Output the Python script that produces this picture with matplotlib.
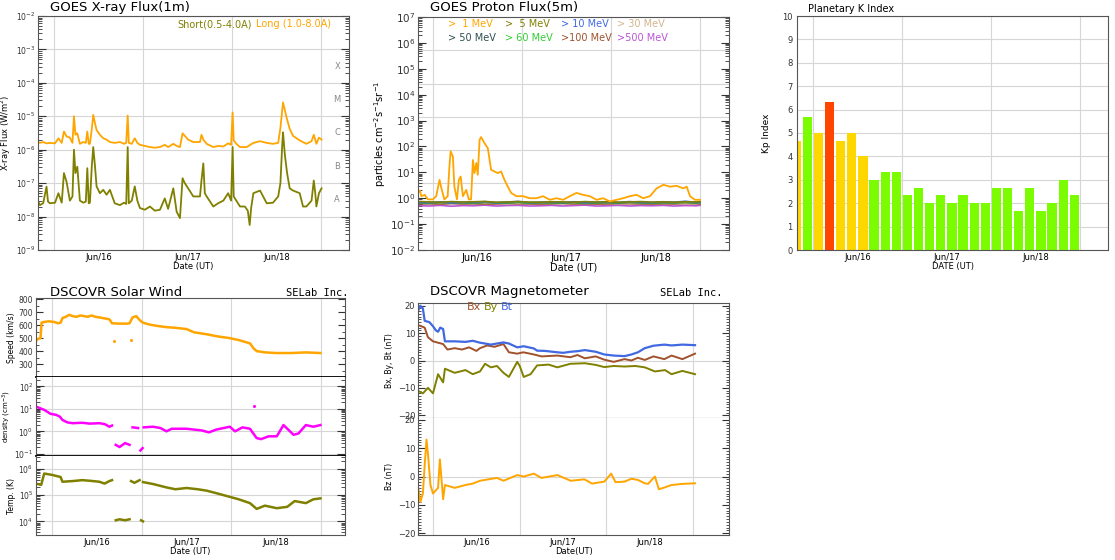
import numpy as np
import matplotlib.pyplot as plt
from matplotlib.ticker import LogLocator, NullFormatter, MultipleLocator
import matplotlib.transforms as mtrans

# ---- data (time in hours from Jun 16 00 UT) ----
day_labels = ['Jun/16', 'Jun/17', 'Jun/18']
day_mid = [12, 36, 60]
day_edges = [0, 24, 48, 72]

# GOES X-ray, long channel (1.0-8.0 A)
xl_t = [-4.2, -3.8, -2.9, -2.0, -1.1, 0.3, 1.2, 2.1, 2.7, 3.4, 4.3, 5.0, 5.4, 5.8, 6.3, 7.0,
        7.9, 8.6, 9.0, 9.4, 9.7, 10.2, 10.6, 11.1, 11.5, 12.4, 13.3, 14.2, 15.1, 16.4, 17.8,
        18.9, 19.5, 19.9, 20.2, 21.0, 21.8, 22.5, 23.2, 24.5, 25.9, 27.2, 28.6, 29.9, 30.8,
        32.2, 33.1, 34.0, 34.7, 35.3, 36.2, 37.6, 39.4, 39.8, 40.3, 41.2, 43.0, 44.3, 45.7,
        47.0, 47.8, 48.2, 48.5, 49.2, 50.2, 52.0, 53.8, 55.6, 57.4, 59.1, 60.5, 61.1, 61.6,
        61.8, 62.3, 62.9, 63.6, 64.5, 66.3, 68.1, 69.5, 70.1, 70.8, 71.5, 72.2]
xl_v = [1.7e-6, 1.6e-6, 1.7e-6, 1.55e-6, 1.6e-6, 1.55e-6, 2.2e-6, 1.6e-6, 3.5e-6, 2.5e-6,
        2.3e-6, 1.6e-6, 1.0e-5, 2.8e-6, 3.1e-6, 1.5e-6, 1.7e-6, 1.6e-6, 3.5e-6, 1.5e-6,
        1.5e-6, 4e-6, 1.1e-5, 6e-6, 3.9e-6, 2.8e-6, 2.2e-6, 2.0e-6, 1.7e-6, 1.6e-6, 1.7e-6,
        1.5e-6, 1.6e-6, 1.05e-5, 1.6e-6, 1.5e-6, 2.2e-6, 1.6e-6, 1.4e-6, 1.3e-6, 1.2e-6,
        1.15e-6, 1.2e-6, 1.4e-6, 1.2e-6, 1.5e-6, 1.3e-6, 1.2e-6, 3.1e-6, 2.6e-6, 2.0e-6,
        1.7e-6, 1.7e-6, 2.8e-6, 2.0e-6, 1.5e-6, 1.2e-6, 1.3e-6, 1.25e-6, 1.55e-6, 1.4e-6,
        1.3e-5, 1.9e-6, 1.5e-6, 1.2e-6, 1.2e-6, 1.6e-6, 1.8e-6, 1.6e-6, 1.5e-6, 1.6e-6,
        4.5e-6, 1.6e-5, 2.6e-5, 1.5e-5, 8e-6, 4.2e-6, 2.6e-6, 1.9e-6, 1.5e-6, 1.8e-6,
        2.8e-6, 1.5e-6, 2.3e-6, 2.0e-6]

# GOES X-ray, short channel (0.5-4.0 A)
xs_t = [-4.2, -3.8, -2.9, -2.0, -1.6, -1.1, 0.3, 1.2, 2.1, 2.7, 3.4, 4.3, 5.0, 5.4, 5.8, 6.3,
        7.0, 7.9, 8.6, 9.0, 9.4, 9.7, 10.2, 10.6, 11.1, 11.5, 12.4, 13.3, 14.2, 15.1, 16.4,
        17.8, 18.9, 19.5, 19.9, 20.2, 21.0, 21.8, 22.5, 23.2, 24.5, 25.9, 27.2, 28.6, 29.9,
        30.8, 32.2, 33.1, 34.0, 34.7, 35.3, 36.2, 37.6, 39.4, 39.8, 40.3, 40.7, 41.2, 43.0,
        44.3, 45.7, 47.0, 47.8, 48.2, 48.5, 49.2, 50.2, 51.5, 52.3, 52.8, 53.2, 53.8, 55.6,
        57.4, 59.1, 60.5, 61.1, 61.6, 61.8, 62.3, 62.9, 63.6, 64.5, 66.3, 67.2, 68.1, 69.5,
        70.1, 70.5, 70.8, 71.5, 72.2]
xs_v = [2.8e-8, 2.2e-8, 2.5e-8, 7.9e-8, 2.8e-8, 2.5e-8, 2.6e-8, 5e-8, 2.6e-8, 2e-7, 1.1e-7,
        3e-8, 4e-8, 1e-6, 2e-7, 3.1e-7, 3e-8, 2.6e-8, 2.8e-8, 2.8e-7, 2.5e-8, 2.6e-8, 3e-7,
        1.2e-6, 3e-7, 8e-8, 5e-8, 6.3e-8, 4.5e-8, 6.3e-8, 2.5e-8, 2.2e-8, 2.6e-8, 2.4e-8,
        1.2e-6, 2.5e-8, 3e-8, 8e-8, 3e-8, 1.8e-8, 1.6e-8, 2e-8, 1.5e-8, 1.6e-8, 3.5e-8,
        1.7e-8, 7e-8, 1.4e-8, 9e-9, 1.4e-7, 1e-7, 7e-8, 4e-8, 4e-8, 1.2e-7, 3.9e-7, 5e-8,
        4e-8, 2e-8, 2.5e-8, 3e-8, 5e-8, 3e-8, 1.2e-6, 4e-8, 3e-8, 2e-8, 2e-8, 1.5e-8, 5.6e-9,
        1.8e-8, 5e-8, 6e-8, 2.5e-8, 2.6e-8, 4e-8, 1e-7, 1.5e-6, 3.3e-6, 7e-7, 2e-7, 7e-8,
        6e-8, 5e-8, 2e-8, 2e-8, 3e-8, 1.2e-7, 5e-8, 2e-8, 5e-8, 7e-8]
flare_classes = ['A', 'B', 'C', 'M', 'X']
flare_mid = [10**-7.5, 10**-6.5, 10**-5.5, 10**-4.5, 10**-3.5]

# GOES protons, >1 MeV
p1_t = [-4.0, -3.5, -3.1, -2.2, -1.3, 0, 0.9, 1.8, 2.2, 3.1, 4.0, 4.5, 4.8, 5.4, 5.8, 6.5,
        7.0, 7.5, 8.1, 9.0, 9.7, 10.3, 10.8, 11.2, 11.7, 12.1, 12.6, 13.0, 13.9, 14.8, 15.7,
        16.6, 17.5, 18.4, 19.3, 20.2, 21.1, 22.5, 24.3, 26.1, 27.9, 29.7, 31.5, 33.3, 35.1,
        36.9, 38.7, 40.5, 42.3, 44.1, 45.9, 47.7, 49.5, 51.3, 53.1, 54.9, 56.7, 58.5, 60.3,
        62.1, 63.9, 65.7, 67.5, 68.4, 69.3, 70.6, 72.0]
p1_v = [1.6, 2.0, 1.2, 1.35, 0.9, 0.9, 1.2, 5.1, 2.8, 0.9, 1.2, 20, 65, 41, 2.8, 0.9, 5.1,
        6.9, 1.2, 2.1, 0.9, 0.9, 30, 9.3, 23, 8, 182, 230, 135, 87, 12.5, 10.8, 9.3, 10.8,
        5.1, 2.8, 1.6, 1.2, 1.2, 1.0, 1.0, 1.2, 0.87, 1.0, 0.87, 1.2, 1.6, 1.35, 1.2, 0.87,
        1.0, 0.75, 0.87, 1.0, 1.2, 1.35, 1.0, 1.2, 2.4, 3.3, 2.8, 3.0, 2.4, 2.8, 1.2, 0.87, 0.87]
# higher energy channels (flat background)
ph_t = [-4, -1, 2, 5, 8, 11, 14, 17, 20, 23, 26, 29, 32, 35, 38, 41, 44, 47, 50, 53, 56, 59,
        62, 65, 68, 71, 72]
p5_v = [0.75, 0.72, 0.70, 0.74, 0.71, 0.73, 0.75, 0.70, 0.72, 0.74, 0.71, 0.70, 0.73, 0.72,
        0.70, 0.74, 0.71, 0.73, 0.70, 0.72, 0.74, 0.71, 0.72, 0.70, 0.73, 0.72, 0.74]
p10_v = [0.70, 0.68, 0.72, 0.66, 0.70, 0.69, 0.74, 0.67, 0.71, 0.75, 0.68, 0.70, 0.72, 0.69,
         0.73, 0.68, 0.70, 0.72, 0.69, 0.74, 0.70, 0.68, 0.73, 0.70, 0.76, 0.69, 0.72]
p30_v = [0.64, 0.65, 0.63, 0.66, 0.64, 0.65, 0.63, 0.64, 0.66, 0.65, 0.64, 0.63, 0.65, 0.66,
         0.64, 0.65, 0.63, 0.64, 0.66, 0.65, 0.64, 0.63, 0.65, 0.64, 0.66, 0.65, 0.64]
p50_v = [0.66, 0.64, 0.68, 0.65, 0.67, 0.64, 0.69, 0.66, 0.65, 0.70, 0.64, 0.67, 0.66, 0.65,
         0.68, 0.64, 0.66, 0.67, 0.65, 0.69, 0.66, 0.64, 0.67, 0.66, 0.70, 0.65, 0.67]
p60_v = [0.68, 0.66, 0.70, 0.67, 0.69, 0.66, 0.71, 0.68, 0.67, 0.70, 0.66, 0.69, 0.68, 0.67,
         0.70, 0.66, 0.68, 0.69, 0.67, 0.70, 0.68, 0.66, 0.69, 0.68, 0.70, 0.67, 0.69]
p100_v = [0.60, 0.61, 0.59, 0.62, 0.60, 0.61, 0.59, 0.60, 0.62, 0.61, 0.60, 0.59, 0.61, 0.62,
          0.60, 0.61, 0.59, 0.60, 0.62, 0.61, 0.60, 0.59, 0.61, 0.60, 0.62, 0.61, 0.60]
p500_v = [0.52, 0.50, 0.53, 0.49, 0.52, 0.51, 0.54, 0.50, 0.52, 0.53, 0.50, 0.51, 0.53, 0.50,
          0.52, 0.54, 0.50, 0.51, 0.53, 0.50, 0.52, 0.51, 0.53, 0.50, 0.52, 0.51, 0.53]
proton_names = ['>  1 MeV', '>  5 MeV', '> 10 MeV', '> 30 MeV',
                '> 50 MeV', '> 60 MeV', '>100 MeV', '>500 MeV']

# Planetary K index, 3-hour bins starting Jun 15 18 UT
kp_values = [4.67, 5.67, 5.0, 6.33, 4.67, 5.0, 4.0, 3.0, 3.33, 3.33, 2.33, 2.67, 2.0, 2.33,
             2.0, 2.33, 2.0, 2.0, 2.67, 2.67, 1.67, 2.67, 1.67, 2.0, 3.0, 2.33]
kp_first_bin = -4.5

# DSCOVR solar wind
sp_t = [-4.4, -3.8, -3.2, -2.9, -2.2, -1.0, 0.5, 1.5, 2.2, 2.7, 3.6, 4.5, 5.4, 6.5, 7.5, 8.5,
        9.5, 10.5, 11.5, 12.6, 13.5, 14.5, 15.3, 16.0, 18.0, 20.0, 20.7, 21.5, 22.5, 23.4,
        24.0, 24.3, 26.0, 28.0, 30.6, 33.0, 36.0, 38.0, 41.4, 44.0, 47.6, 50.0, 53.0, 54.0,
        54.8, 57.0, 60.2, 64.0, 68.0, 71.9]
sp_v = [480, 495, 500, 620, 625, 630, 625, 615, 620, 655, 665, 680, 670, 665, 675, 670, 665,
        675, 665, 660, 655, 650, 645, 615, 612, 612, 615, 660, 670, 640, 625, 620, 605, 595,
        585, 580, 570, 545, 530, 515, 500, 485, 460, 420, 400, 390, 385, 385, 390, 385]
den_t = [-4.4, -2.2, -0.5, 1.0, 2.0, 2.7, 4.0, 5.4, 8.0, 10.0, 12.6, 14.0, 15.3, 16.0, np.nan,
         21.5, 23.0, np.nan, 24.5, 27.0, 29.0, 30.6, 32.0, 36.0, 40.0, 42.0, 44.0, 47.6, 49.0,
         51.0, 53.0, 54.8, 56.0, 58.0, 60.2, 62.0, 64.7, 66.0, 68.0, 70.0, 71.9]
den_v = [12.6, 9, 6, 5.4, 4.5, 3.2, 2.5, 2.3, 2.4, 2.2, 2.3, 2.1, 1.6, 1.8, np.nan, 1.5, 1.4,
         np.nan, 1.5, 1.6, 1.4, 1.0, 1.3, 1.3, 1.1, 0.9, 1.2, 1.6, 1.0, 1.5, 1.3, 0.5, 0.45,
         0.6, 0.6, 1.9, 0.7, 0.8, 1.9, 1.6, 1.9]
den_low_t = [17.0, 18.0, 19.5, 20.7, np.nan, 23.6, 24.2]
den_low_v = [0.25, 0.2, 0.3, 0.25, np.nan, 0.14, 0.18]
tmp_t = [-4.4, -3.0, -2.2, 0, 2.2, 2.7, 5.4, 8.0, 10, 12.6, 14, 15.3, 16, np.nan, 21.1, 22,
         23.4, np.nan, 24.3, 27, 30.6, 33, 36, 39, 41.4, 44, 47.6, 50, 53, 54.8, 57, 60.2,
         63, 65, 68, 70, 71.9]
tmp_v = [2.8e5, 2.5e5, 6.8e5, 6e5, 5e5, 3.3e5, 3.5e5, 3.8e5, 3.6e5, 3.3e5, 2.8e5, 3.5e5,
         3.8e5, np.nan, 3.5e5, 3e5, 3.8e5, np.nan, 3.2e5, 2.7e5, 2.0e5, 1.7e5, 1.9e5, 1.7e5,
         1.5e5, 1.2e5, 8.7e4, 7e4, 5e4, 3e4, 4e4, 3.2e4, 3.6e4, 6e4, 5e4, 7e4, 7.6e4]
tmp_low_t = [17.0, 18.0, 19.5, 20.7, np.nan, 23.8, 24.3]
tmp_low_v = [1.1e4, 1.2e4, 1.1e4, 1.2e4, np.nan, 1.1e4, 1.0e4]

# DSCOVR magnetometer
bt_t = [-4.2, -3.5, -2.8, -2.3, -1.0, 0, 0.8, 1.4, 2.0, 2.8, 3.3, 6, 9, 11, 13, 14.4, 16, 17.7,
        19.5, 21, 23.3, 25.1, 27.9, 28.8, 31, 34.4, 36, 38.1, 40, 42, 45, 47.4, 50, 53, 54.9,
        56.7, 58.6, 61, 64, 66, 69, 72.5]
bt_v = [18, 20, 19, 14.5, 14, 12.5, 11, 10.5, 12, 11.5, 7, 7, 6.8, 7.2, 6.5, 6.2, 5.8, 6.2,
        6.6, 6.2, 4.8, 5.2, 4.4, 3.6, 3.5, 3.0, 2.8, 3.2, 3.4, 3.8, 3.2, 2.2, 1.8, 1.6, 2.2,
        3.0, 4.5, 5.4, 5.8, 5.5, 5.8, 5.6]
bx_t = [-4.2, -2.3, -1.4, 0, 2.8, 4, 6, 8, 10, 12, 13, 15, 17, 19.5, 21, 23.3, 25, 27.9, 30,
        34.4, 38, 40, 42, 45, 47.4, 50, 53, 54.9, 56.7, 58.6, 61, 64, 66, 69, 72.5]
bx_v = [13, 12, 8.5, 7, 6, 4, 4.5, 4, 4.8, 3.5, 4.5, 5.5, 5, 6, 3, 2.5, 3, 2.2, 1.5, 1.8, 1.2,
        2.0, 0.8, 1.5, 0.3, -0.5, 0.5, 0, 1, 0.2, 1.5, 0.5, 1.8, 0.5, 2.5]
by_t = [-4.2, -2.8, -1.4, 0, 1.4, 2.8, 3.3, 6, 9, 11, 13, 14.4, 16, 17.7, 19.5, 21, 23.3, 24,
        25.1, 27, 28.8, 32, 34.4, 38, 42, 45, 47.4, 50, 53, 56, 58.6, 61.4, 64.2, 66, 69, 72.5]
by_v = [-11, -12, -10, -12, -5, -8, -3, -4.5, -3.5, -5, -4, -1.2, -2.5, -2, -4.5, -6, -0.5, -2,
        -6, -5, -1.8, -1.5, -2.5, -1.2, -1.0, -1.6, -2.4, -2.0, -2.2, -2.0, -2.5, -4, -3.5, -5,
        -3.8, -5]
bz_t = [-4.2, -3.5, -2.8, -2.3, -1.8, -1.4, -0.7, 0, 1.4, 1.9, 2.8, 3.3, 6, 9, 11, 13, 14.4,
        17.7, 19.5, 23.3, 25.1, 27.9, 30, 34.4, 38.1, 41.9, 44, 47.4, 49.3, 50.5, 53, 54.9,
        56.7, 58.6, 59.5, 61.4, 62.5, 64.2, 66, 69, 72.5]
bz_v = [-3, -9, -6, 4, 13, 8, -3, -6, -4, 6, -8, -3, -4, -3, -2.5, -1.5, -1.2, -0.5, -1.5, 0.5,
        0, 1.0, -0.5, 0.5, -1.5, -1.0, -2.5, -1.8, 1.0, -2.0, -1.8, -0.8, -1.2, -2.4, -2.6, 0,
        -4.5, -3.8, -3.0, -2.6, -2.4]

# ---- colours ----
ORANGE = '#FFA500'
OLIVE = '#808000'
GRID = '#d6d6d6'
FRAME = '#555555'
proton_colors = ['#FFA500', '#808000', '#4169E1', '#D2B48C',
                 '#2F4F4F', '#32CD32', '#A0522D', '#BA55D3']
kp_colors = ['#FFD700', '#7CFC00', '#FFD700', '#FF4500', '#FFD700', '#FFD700', '#FFD700'] + \
            ['#7CFC00'] * 19

W, H = 1115, 560
fig = plt.figure(figsize=(W / 100, H / 100), dpi=100)


def box(l, t, r, b):
    return fig.add_axes([l / W, 1 - b / H, (r - l) / W, (b - t) / H])


def time_axis(ax, xlim, labels=True, fs=6):
    ax.set_xlim(xlim)
    ax.set_xticks(day_mid)
    ax.set_xticklabels(day_labels if labels else [], fontsize=fs)
    ax.set_xticks(day_edges, minor=True)
    ax.tick_params(axis='x', which='both', length=0, pad=2)
    ax.grid(True, axis='x', which='minor', color=GRID, lw=0.8)
    ax.tick_params(axis='y', which='both', direction='in', left=True, right=True,
                   colors='#333333')
    for s in ax.spines.values():
        s.set_color(FRAME)


def log_y(ax, lo, hi, fs):
    ax.set_yscale('log')
    ax.set_ylim(lo, hi)
    ax.yaxis.set_major_locator(LogLocator(base=10, numticks=30))
    ax.yaxis.set_minor_locator(LogLocator(base=10, subs=np.arange(2, 10), numticks=30))
    ax.yaxis.set_minor_formatter(NullFormatter())
    ax.tick_params(axis='y', which='major', length=6, labelsize=fs, pad=2)
    ax.tick_params(axis='y', which='minor', length=3)


# ---- GOES X-ray ----
ax = box(38, 16, 349, 250)
ax.plot(xl_t, xl_v, color=ORANGE, lw=1.3)
ax.plot(xs_t, xs_v, color=OLIVE, lw=1.3)
log_y(ax, 1e-9, 1e-2, 5.5)
time_axis(ax, (-4.3, 79.6))
ax.grid(True, axis='y', which='major', color=GRID, lw=0.8)
ax.set_xlabel('Date (UT)', fontsize=6, labelpad=0)
ax.set_ylabel('X-ray Flux (W/m$^2$)', fontsize=6, labelpad=2)
tr = mtrans.blended_transform_factory(ax.transAxes, ax.transData)
for c, v in zip(flare_classes, flare_mid):
    ax.text(0.962, v, c, transform=tr, color='#888888', fontsize=6, ha='center', va='center')
ax.text(0.447, 0.965, 'Short(0.5-4.0A)', transform=ax.transAxes, color=OLIVE, fontsize=7,
        va='center')
ax.text(0.700, 0.965, 'Long (1.0-8.0A)', transform=ax.transAxes, color=ORANGE, fontsize=7,
        va='center')
fig.text(50 / W, 1 - 8 / H, 'GOES X-ray Flux(1m)', fontsize=9.5, va='center')

# ---- GOES protons ----
ax = box(418, 17, 729, 250)
for vals, col in zip([p500_v, p100_v, p30_v, p50_v, p60_v, p10_v, p5_v],
                     ['#BA55D3', '#A0522D', '#D2B48C', '#2F4F4F', '#32CD32', '#4169E1', '#808000']):
    ax.plot(ph_t, vals, color=col, lw=1.2)
ax.plot(p1_t, p1_v, color=ORANGE, lw=1.3)
log_y(ax, 1e-2, 1e7, 7.5)
time_axis(ax, (-4.0, 79.8), fs=7)
for k in range(1, 7):
    ax.axhline(10 ** (7 - 9 * k / 7), color=GRID, lw=0.8, zorder=0)
ax.set_xlabel('Date (UT)', fontsize=7, labelpad=0)
ax.set_ylabel('particles cm$^{-2}$s$^{-1}$sr$^{-1}$', fontsize=7, labelpad=1)
leg_x = [448, 505, 561, 617]
for i, (name, col) in enumerate(zip(proton_names, proton_colors)):
    fig.text(leg_x[i % 4] / W, 1 - (24 + 14 * (i // 4)) / H, name, color=col, fontsize=7,
             va='center')
fig.text(430 / W, 1 - 8 / H, 'GOES Proton Flux(5m)', fontsize=9.5, va='center')

# ---- Planetary K index ----
ax = box(797, 16, 1108, 250)
kp_t = kp_first_bin + 3 * np.arange(len(kp_values))
ax.bar(kp_t, kp_values, width=2.5, color=kp_colors, zorder=2)
time_axis(ax, (-4.3, 79.6), fs=6)
ax.set_ylim(0, 10)
ax.yaxis.set_major_locator(MultipleLocator(1))
ax.tick_params(axis='y', which='major', length=0, labelsize=6, pad=3)
ax.grid(True, axis='y', which='major', color=GRID, lw=0.8, zorder=0)
ax.set_axisbelow(True)
ax.set_xlabel('DATE (UT)', fontsize=6, labelpad=0)
ax.set_ylabel('Kp Index', fontsize=6.5, labelpad=8)
fig.text(808 / W, 1 - 9 / H, 'Planetary K Index', fontsize=7, va='center')

# ---- DSCOVR solar wind ----
sw_lim = (-4.4, 78.5)
ax1 = box(36, 298, 345, 377)
ax1.plot(sp_t, sp_v, color=ORANGE, lw=1.8)
ax1.plot([16.5, 21.0], [480, 485], 'o', color=ORANGE, ms=1.2)
time_axis(ax1, sw_lim, labels=False)
ax1.set_ylim(200, 810)
ax1.set_yticks([300, 400, 500, 600, 700, 800])
ax1.yaxis.set_minor_locator(MultipleLocator(50))
ax1.tick_params(axis='y', which='major', length=5, labelsize=5.5, pad=2)
ax1.tick_params(axis='y', which='minor', length=2.5)
ax1.set_ylabel('Speed (km/s)', fontsize=5.5, labelpad=2)

ax2 = box(36, 377, 345, 456)
ax2.plot(den_t, den_v, color='#FF00FF', lw=1.8)
ax2.plot(den_low_t, den_low_v, color='#FF00FF', lw=1.8)
ax2.plot([54.0], [14.0], 'o', color='#FF00FF', ms=1.2)
log_y(ax2, 0.08, 260, 5.5)
time_axis(ax2, sw_lim, labels=False)
ax2.grid(True, axis='y', which='major', color=GRID, lw=0.8)
ax2.set_ylabel('density (cm$^{-3}$)', fontsize=5, labelpad=1)

ax3 = box(36, 456, 345, 535)
ax3.plot(tmp_t, tmp_v, color=OLIVE, lw=1.8)
ax3.plot(tmp_low_t, tmp_low_v, color=OLIVE, lw=1.8)
log_y(ax3, 3e3, 3.2e6, 5.5)
time_axis(ax3, sw_lim, fs=6)
ax3.grid(True, axis='y', which='major', color=GRID, lw=0.8)
ax3.set_ylabel('Temp. (K)', fontsize=5.5, labelpad=2)
ax3.set_xlabel('Date (UT)', fontsize=6, labelpad=0)
for a, b in [(ax1, ax2), (ax2, ax3)]:
    a.spines['bottom'].set_color('black')
    a.spines['bottom'].set_linewidth(1.3)
    b.spines['top'].set_visible(False)
fig.text(50 / W, 1 - 292 / H, 'DSCOVR Solar Wind', fontsize=9.5, va='center')
fig.text(348 / W, 1 - 293 / H, 'SELab Inc.', fontsize=7.5, family='DejaVu Sans Mono',
         ha='right', va='center')

# ---- DSCOVR magnetometer ----
mag_lim = (-4.15, 81.9)
ax1 = box(418, 303, 729, 418)
ax1.plot(bx_t, bx_v, color='#A0522D', lw=1.4)
ax1.plot(by_t, by_v, color=OLIVE, lw=1.4)
ax1.plot(bt_t, bt_v, color='#4169E1', lw=1.6)
time_axis(ax1, mag_lim, labels=False)
ax1.set_ylim(-21, 21)
ax1.set_yticks([-20, -10, 0, 10, 20])
ax1.yaxis.set_minor_locator(MultipleLocator(1))
ax1.tick_params(axis='y', which='major', length=5, labelsize=6, pad=2)
ax1.tick_params(axis='y', which='minor', length=2.5)
ax1.axhline(0, color=GRID, lw=0.8, zorder=0)
ax1.set_ylabel('Bx, By, Bt (nT)', fontsize=5.5, labelpad=3)
fig.text(467 / W, 1 - 307 / H, 'Bx', color='#A0522D', fontsize=8, va='center')
fig.text(484 / W, 1 - 307 / H, 'By', color=OLIVE, fontsize=8, va='center')
fig.text(501 / W, 1 - 307 / H, 'Bt', color='#4169E1', fontsize=8, va='center')

ax2 = box(418, 418, 729, 535)
ax2.plot(bz_t, bz_v, color=ORANGE, lw=1.4)
time_axis(ax2, mag_lim, fs=6)
ax2.set_ylim(-20.6, 20.6)
ax2.set_yticks([-20, -10, 0, 10, 20])
ax2.yaxis.set_minor_locator(MultipleLocator(1))
ax2.tick_params(axis='y', which='major', length=5, labelsize=6, pad=2)
ax2.tick_params(axis='y', which='minor', length=2.5)
ax2.axhline(0, color=GRID, lw=0.8, zorder=0)
ax2.set_ylabel('Bz (nT)', fontsize=5.5, labelpad=3)
ax2.set_xlabel('Date(UT)', fontsize=6, labelpad=0)
ax2.spines['top'].set_visible(False)
ax1.spines['bottom'].set_color('#333333')
fig.text(430 / W, 1 - 292 / H, 'DSCOVR Magnetometer', fontsize=9.5, va='center')
fig.text(722 / W, 1 - 293 / H, 'SELab Inc.', fontsize=7.5, family='DejaVu Sans Mono',
         ha='right', va='center')

fig.savefig('out.png', dpi=100)
